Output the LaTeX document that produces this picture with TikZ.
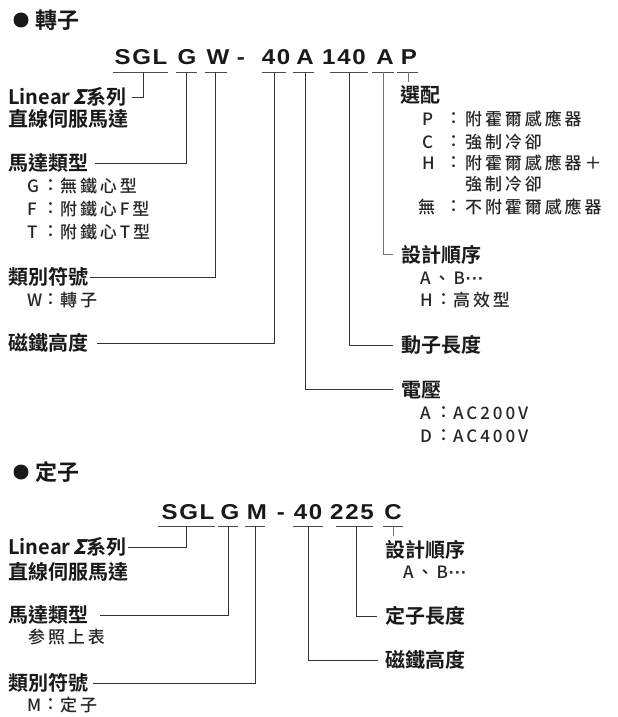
\documentclass[tikz,border=0pt]{standalone}
\usepackage{fontspec}
\setmainfont{Noto Sans CJK TC}[BoldFont={Noto Sans CJK TC Bold}]
\newfontfamily\subfont[LetterSpace=17]{Noto Sans CJK TC Medium}
\newfontfamily\dotfont{Liberation Sans Bold}
\newfontfamily\codefont[LetterSpace=8,FakeStretch=1.12]{Liberation Sans Bold}
\newfontfamily\sigfont[FakeSlant=0.25]{Noto Sans CJK TC Bold}
\newcommand\mydots{{\dotfont\kern1pt ·\kern0.5pt·\kern0.5pt·}}
\begin{document}
\begin{tikzpicture}[x=1pt,y=-1pt,
  lbl/.style={anchor=west,inner sep=0pt,font=\bfseries\fontsize{20}{22}\selectfont,text=black!90},
  ttl/.style={anchor=west,inner sep=0pt,font=\bfseries\fontsize{22}{24}\selectfont,text=black!90},
  sub/.style={anchor=west,inner sep=0pt,font=\subfont\fontsize{17}{19}\selectfont,text=black!85},
  code/.style={anchor=base,inner sep=0pt,font=\codefont\fontsize{21.5}{23}\selectfont,text=black!90},
  ln/.style={draw=black!80,line width=0.9pt},
  ul/.style={draw=black!70,line width=0.9pt}]
\useasboundingbox[fill=white] (0,0) rectangle (618,717);

% ===== Rotor =====
\fill[black!90] (21,20) circle (7.5);
\node[ttl] (t1) at (35,20) {轉子};

\node[code] (c1) at (141,65) {SGL};
\node[code] (c2) at (187,65) {G};
\node[code] (c3) at (218,65) {W};
\node[code] (c4) at (241,65) {-};
\node[code] (c5) at (276,65) {40};
\node[code] (c6) at (305,65) {A};
\node[code] (c7) at (344,65) {140};
\node[code] (c8) at (385,65) {A};
\node[code] (c9) at (409,65) {P};

\draw[ul] (113,72) -- (168,72);
\draw[ul] (176,72) -- (197,72);
\draw[ul] (205,72) -- (227,72);
\draw[ul] (262,72) -- (286,72);
\draw[ul] (293,72) -- (314,72);
\draw[ul] (330,72) -- (368,72);
\draw[ul] (372,72) -- (394,72);
\draw[ul] (397,72) -- (418,72);

% left labels
\node[lbl] (l1) at (8,97) {Linear\,{\sigfont Σ}系列};
\node[lbl] (l1b) at (8,119) {直線伺服馬達};
\node[lbl] (l2) at (8,163) {馬達類型};
\node[sub] at (27,186) {G};
\node[sub] at (42,186) {：};
\node[sub] (g1) at (60,186) {無鐵心型};
\node[sub] at (27,209) {F};
\node[sub] at (42,209) {：};
\node[sub] (g2) at (60,209) {附鐵心F型};
\node[sub] at (27,232) {T};
\node[sub] at (42,232) {：};
\node[sub] (g3) at (60,232) {附鐵心T型};
\node[lbl] (l3) at (8,277) {類別符號};
\node[sub] at (27,300) {W};
\node[sub] at (42,300) {：};
\node[sub] (w1) at (60,300) {轉子};
\node[lbl] (l4) at (8,343) {磁鐵高度};

% right labels
\node[lbl] (r1) at (400,95) {選配};
\node[sub] at (422,119) {P};
\node[sub] at (445,119) {：};
\node[sub] (p1) at (465,119) {附霍爾感應器};
\node[sub] at (422,142) {C};
\node[sub] at (445,142) {：};
\node[sub] (p2) at (465,142) {強制冷卻};
\node[sub] at (422,163) {H};
\node[sub] at (445,163) {：};
\node[sub] (p3) at (465,163) {附霍爾感應器＋};
\node[sub] (p3b) at (465,184) {強制冷卻};
\node[sub] at (418,207) {無};
\node[sub] at (445,207) {：};
\node[sub] (p4) at (465,207) {不附霍爾感應器};

\node[lbl] (r2) at (401,255) {設計順序};
\node[sub] (d1) at (420,278) {A、B\mydots};
\node[sub] at (420,300) {H};
\node[sub] at (435,300) {：};
\node[sub] (d2) at (453,300) {高效型};
\node[lbl] (r3) at (401,345) {動子長度};
\node[lbl] (r4) at (401,390) {電壓};
\node[sub] at (420,413) {A};
\node[sub] at (435,413) {：};
\node[sub] (v1) at (453,413) {AC200V};
\node[sub] at (420,436) {D};
\node[sub] at (435,436) {：};
\node[sub] (v2) at (453,436) {AC400V};

% connectors rotor
\coordinate (a1) at (143,72);  \coordinate (e1) at (132,97);
\coordinate (a2) at (186,72);  \coordinate (e2) at (95,163);
\coordinate (a3) at (215,72);  \coordinate (e3) at (90,277);
\coordinate (a4) at (274,72);  \coordinate (e4) at (97,343);
\coordinate (a5) at (305,72);  \coordinate (e5) at (393,389);
\coordinate (a6) at (349,72);  \coordinate (e6) at (393,345);
\coordinate (a7) at (383,72);  \coordinate (e7) at (393,254);
\coordinate (a8) at (408,72);  \coordinate (e8) at (408,82);
\draw[ln] (a1) |- (e1);
\draw[ln] (a2) |- (e2);
\draw[ln] (a3) |- (e3);
\draw[ln] (a4) |- (e4);
\draw[ln] (a5) |- (e5);
\draw[ln] (a6) |- (e6);
\draw[ln,draw=black!55] (a7) |- (e7);
\draw[ln,draw=black!55] (a8) -- (e8);

% ===== Stator =====
\fill[black!90] (21,472) circle (7.5);
\node[ttl] (t2) at (35,472) {定子};

\node[code] (s1) at (188,519) {SGL};
\node[code] (s2) at (230,519) {G};
\node[code] (s3) at (257,519) {M};
\node[code] (s4) at (281,519) {-};
\node[code] (s5) at (308,519) {40};
\node[code] (s6) at (352,519) {225};
\node[code] (s7) at (393,519) {C};

\draw[ul] (158,526) -- (215,526);
\draw[ul] (218,526) -- (238,526);
\draw[ul] (245,526) -- (265,526);
\draw[ul] (293,526) -- (323,526);
\draw[ul] (336,526) -- (373,526);
\draw[ul] (383,526) -- (403,526);

\node[lbl] (m1) at (8,547) {Linear\,{\sigfont Σ}系列};
\node[lbl] (m1b) at (8,572) {直線伺服馬達};
\node[lbl] (m2) at (8,615) {馬達類型};
\node[sub] (m2b) at (28,637) {参照上表};
\node[lbl] (m3) at (8,683) {類別符號};
\node[sub] at (27,705) {M};
\node[sub] at (42,705) {：};
\node[sub] (m3b) at (60,705) {定子};

\node[lbl] (n1) at (385,550) {設計順序};
\node[sub] (n1b) at (403,572) {A、B\mydots};
\node[lbl] (n2) at (385,616) {定子長度};
\node[lbl] (n3) at (385,660) {磁鐵高度};

\coordinate (b1) at (186,526);  \coordinate (f1) at (128,547);
\coordinate (b2) at (228,526);  \coordinate (f2) at (100,615);
\coordinate (b3) at (255,526);  \coordinate (f3) at (93,683);
\coordinate (b4) at (308,526);  \coordinate (f4) at (378,660);
\coordinate (b5) at (356,526);  \coordinate (f5) at (377,616);
\coordinate (b6) at (393,526);  \coordinate (f6) at (393,536);
\draw[ln] (b1) |- (f1);
\draw[ln] (b2) |- (f2);
\draw[ln] (b3) |- (f3);
\draw[ln] (b4) |- (f4);
\draw[ln] (b5) |- (f5);
\draw[ln,draw=black!55] (b6) -- (f6);
\end{tikzpicture}
\end{document}
